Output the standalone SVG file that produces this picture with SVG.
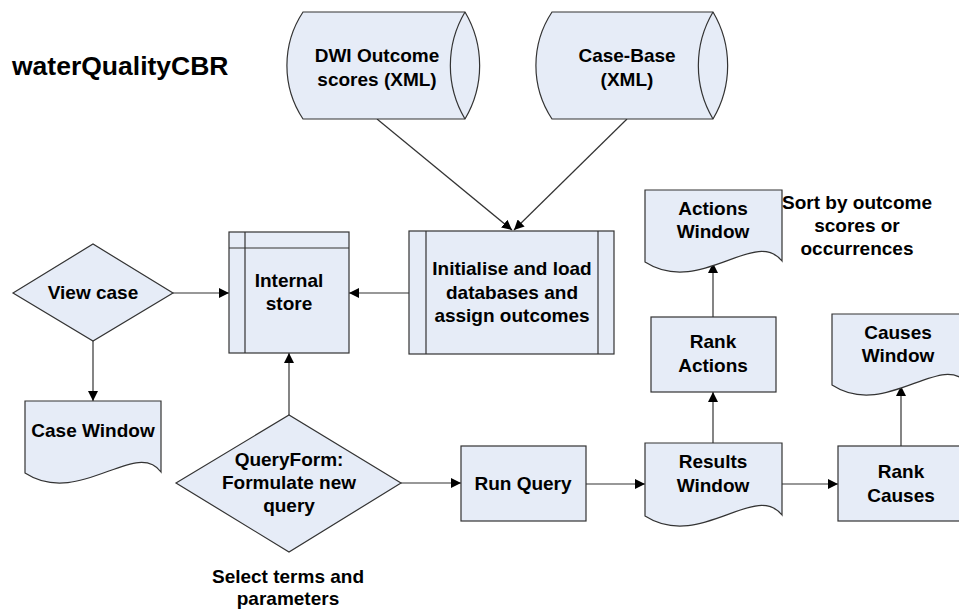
<svg xmlns="http://www.w3.org/2000/svg" width="959" height="614" viewBox="0 0 959 614">
  <style>
    .shape { fill: #E6ECF7; stroke: #333333; stroke-width: 1.2; }
    .inner { fill: none; stroke: #333333; stroke-width: 1.2; }
    .conn { fill: none; stroke: #333333; stroke-width: 1.2; marker-end: url(#arrow); }
    text { font-family: "Liberation Sans", Arial, Helvetica, sans-serif; font-weight: bold; fill: #000000; font-size: 19px; }
    .c { text-anchor: middle; }
    .title { font-size: 26.5px; }
  </style>
  <defs>
    <marker id="arrow" viewBox="0 0 10 10" refX="10" refY="5" markerWidth="10" markerHeight="10" markerUnits="userSpaceOnUse" orient="auto">
      <path d="M0,0 L10,5 L0,10 Z" fill="#000000"/>
    </marker>
  </defs>

  <text class="title" x="12" y="75">waterQualityCBR</text>

  <g id="connectors">
    <line class="conn" x1="377" y1="119" x2="512" y2="230"/>
    <line class="conn" x1="627" y1="119" x2="514" y2="230"/>
    <line class="conn" x1="409" y1="293" x2="349" y2="293"/>
    <line class="conn" x1="173" y1="293" x2="229" y2="293"/>
    <line class="conn" x1="93" y1="341" x2="93" y2="401"/>
    <line class="conn" x1="289" y1="415" x2="289" y2="353"/>
    <line class="conn" x1="401" y1="483" x2="461" y2="483"/>
    <line class="conn" x1="586" y1="484" x2="645" y2="484"/>
    <line class="conn" x1="782" y1="484" x2="838" y2="484"/>
    <line class="conn" x1="713" y1="443" x2="713" y2="392"/>
    <line class="conn" x1="713" y1="317" x2="713" y2="263"/>
    <line class="conn" x1="901" y1="446" x2="901" y2="386"/>
  </g>

  <g id="dwi-outcome">
    <path class="shape" d="M303,12 A97,97 0 0 0 303,119 L465,119 A105,105 0 0 0 465,12 Z"/>
    <path class="inner" d="M465,12 A105,105 0 0 0 465,119"/>
    <text class="c" x="377" y="62">DWI Outcome</text>
    <text class="c" x="377" y="86">scores (XML)</text>
  </g>

  <g id="case-base">
    <path class="shape" d="M552,12 A97,97 0 0 0 552,119 L713,119 A105,105 0 0 0 713,12 Z"/>
    <path class="inner" d="M713,12 A105,105 0 0 0 713,119"/>
    <text class="c" x="627" y="62">Case-Base</text>
    <text class="c" x="627" y="86">(XML)</text>
  </g>

  <g id="initialise">
    <rect class="shape" x="409" y="231" width="205" height="123"/>
    <line class="inner" x1="426" y1="231" x2="426" y2="354"/>
    <line class="inner" x1="598" y1="231" x2="598" y2="354"/>
    <text class="c" x="512" y="275">Initialise and load</text>
    <text class="c" x="512" y="299">databases and</text>
    <text class="c" x="512" y="322">assign outcomes</text>
  </g>

  <g id="internal-store">
    <rect class="shape" x="229" y="232" width="120" height="121"/>
    <line class="inner" x1="245" y1="232" x2="245" y2="353"/>
    <line class="inner" x1="229" y1="248" x2="349" y2="248"/>
    <text class="c" x="289" y="287">Internal</text>
    <text class="c" x="289" y="310">store</text>
  </g>

  <g id="view-case">
    <path class="shape" d="M13,293 L93,244 L173,293 L93,341 Z"/>
    <text class="c" x="93" y="299">View case</text>
  </g>

  <g id="case-window">
    <path class="shape" d="M25,401 H161 V472 C136,438 79,508 25,473 Z"/>
    <text class="c" x="93" y="437">Case Window</text>
  </g>

  <g id="queryform">
    <path class="shape" d="M176,483 L289,415 L401,483 L289,552 Z"/>
    <text class="c" x="289" y="466">QueryForm:</text>
    <text class="c" x="289" y="489">Formulate new</text>
    <text class="c" x="289" y="512">query</text>
  </g>

  <text class="c" x="288" y="583">Select terms and</text>
  <text class="c" x="288" y="605">parameters</text>

  <g id="run-query">
    <rect class="shape" x="461" y="446" width="125" height="75"/>
    <text class="c" x="523" y="490">Run Query</text>
  </g>

  <g id="results-window">
    <path class="shape" d="M645,443 H782 V515 C755,481 700,551 645,516 Z"/>
    <text class="c" x="713" y="468">Results</text>
    <text class="c" x="713" y="492">Window</text>
  </g>

  <g id="rank-causes">
    <rect class="shape" x="838" y="446" width="126" height="75"/>
    <text class="c" x="901" y="478">Rank</text>
    <text class="c" x="901" y="502">Causes</text>
  </g>

  <g id="rank-actions">
    <rect class="shape" x="651" y="317" width="125" height="75"/>
    <text class="c" x="713" y="348">Rank</text>
    <text class="c" x="713" y="372">Actions</text>
  </g>

  <g id="actions-window">
    <path class="shape" d="M645,190 H782 V261 C755,227 700,297 645,262 Z"/>
    <text class="c" x="713" y="215">Actions</text>
    <text class="c" x="713" y="238">Window</text>
  </g>

  <g id="causes-window">
    <path class="shape" d="M832,314 H968 V384 C941,350 886,420 832,385 Z"/>
    <text class="c" x="898" y="339">Causes</text>
    <text class="c" x="898" y="362">Window</text>
  </g>

  <text class="c" x="857" y="209">Sort by outcome</text>
  <text class="c" x="857" y="232">scores or</text>
  <text class="c" x="857" y="255">occurrences</text>
</svg>
